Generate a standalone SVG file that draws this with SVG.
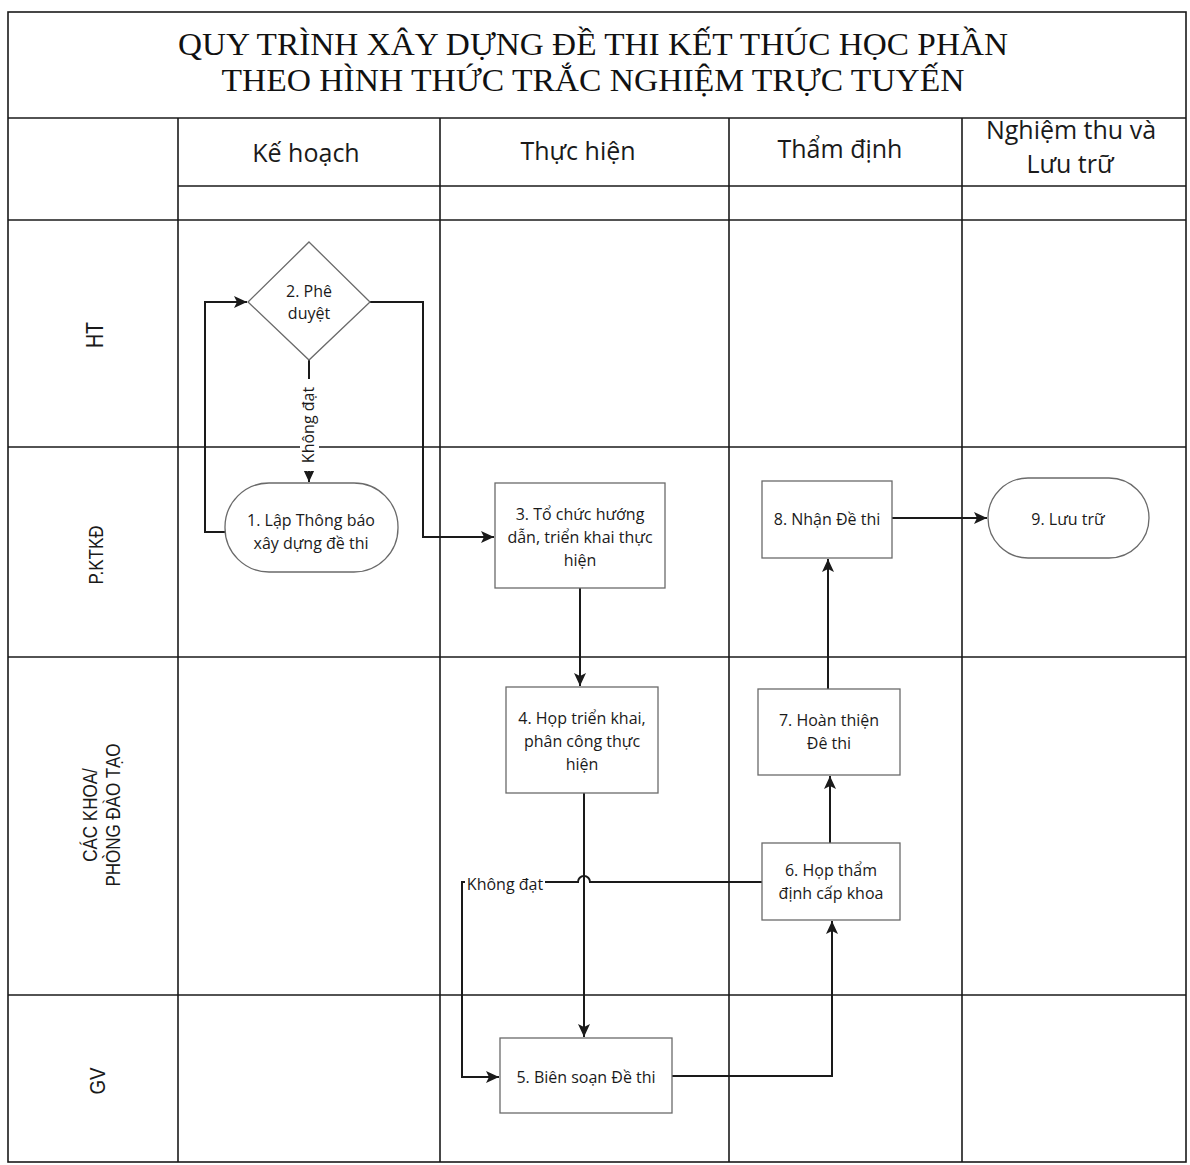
<svg xmlns="http://www.w3.org/2000/svg" width="1190" height="1165" viewBox="0 0 1190 1165">
<style>
.grid{stroke:#1a1a1a;stroke-width:1.6;fill:none}
.box{fill:#ffffff;stroke:#6a6a6a;stroke-width:1.3}
.conn{stroke:#1a1a1a;stroke-width:2;fill:none}
.t{font-family:"Open Sans","Noto Sans",sans-serif;font-size:16px;fill:#1a1a1a;text-anchor:middle}
.hd{font-family:"Open Sans","Noto Sans",sans-serif;font-size:25px;fill:#1a1a1a;text-anchor:middle}
.ttl{font-family:"Liberation Serif","Times New Roman",serif;font-size:32px;fill:#111;text-anchor:middle}
.lane{font-family:"Liberation Sans",Arial,sans-serif;fill:#1a1a1a;text-anchor:middle}
</style>
<defs>
<marker id="arr" markerUnits="userSpaceOnUse" markerWidth="14" markerHeight="12" refX="13" refY="6" orient="auto">
<path d="M0,0 L13,6 L0,12 L3,6 z" fill="#1a1a1a"/>
</marker>
</defs>
<rect x="0" y="0" width="1190" height="1165" fill="#ffffff"/>
<g id="grid">
<rect class="grid" x="8" y="12" width="1178" height="1150"/>
<line class="grid" x1="8" y1="118" x2="1186" y2="118"/>
<line class="grid" x1="178" y1="186" x2="1186" y2="186"/>
<line class="grid" x1="8" y1="220" x2="1186" y2="220"/>
<line class="grid" x1="8" y1="447" x2="1186" y2="447"/>
<line class="grid" x1="8" y1="657" x2="1186" y2="657"/>
<line class="grid" x1="8" y1="995" x2="1186" y2="995"/>
<line class="grid" x1="178" y1="118" x2="178" y2="1162"/>
<line class="grid" x1="440" y1="118" x2="440" y2="1162"/>
<line class="grid" x1="729" y1="118" x2="729" y2="1162"/>
<line class="grid" x1="962" y1="118" x2="962" y2="1162"/>
</g>
<g id="title">
<text class="ttl" x="593" y="55" textLength="830" lengthAdjust="spacingAndGlyphs">QUY TRÌNH XÂY DỰNG ĐỀ THI KẾT THÚC HỌC PHẦN</text>
<text class="ttl" x="593" y="91" textLength="743" lengthAdjust="spacingAndGlyphs">THEO HÌNH THỨC TRẮC NGHIỆM TRỰC TUYẾN</text>
</g>
<g id="headers">
<text class="hd" x="306" y="162">Kế hoạch</text>
<text class="hd" x="578" y="160">Thực hiện</text>
<text class="hd" x="840" y="158">Thẩm định</text>
<text class="hd" x="1071" y="139">Nghiệm thu và</text>
<text class="hd" x="1070" y="173">Lưu trữ</text>
</g>
<g id="lanes">
<text class="lane" font-size="24" transform="translate(103,335) rotate(-90) scale(0.82,1)">HT</text>
<text class="lane" font-size="20" transform="translate(103,555) rotate(-90) scale(0.85,1)">P.KTKĐ</text>
<text class="lane" font-size="20" transform="translate(97,815) rotate(-90) scale(0.85,1)">CÁC KHOA/</text>
<text class="lane" font-size="20" transform="translate(120,815) rotate(-90) scale(0.85,1)">PHÒNG ĐÀO TẠO</text>
<text class="lane" font-size="22" transform="translate(105,1081) rotate(-90) scale(0.85,1)">GV</text>
</g>
<g id="connectors">
<path class="conn" d="M225,532 H205 V302 H247" marker-end="url(#arr)"/>
<path class="conn" d="M370,302 H423 V537 H494" marker-end="url(#arr)"/>
<path class="conn" d="M309,360 V482" marker-end="url(#arr)"/>
<path class="conn" d="M580,588 V686" marker-end="url(#arr)"/>
<path class="conn" d="M584,793 V1037" marker-end="url(#arr)"/>
<path class="conn" d="M672,1076 H832 V921" marker-end="url(#arr)"/>
<path class="conn" d="M830,843 V776" marker-end="url(#arr)"/>
<path class="conn" d="M828,689 V559" marker-end="url(#arr)"/>
<path class="conn" d="M892,518 H987" marker-end="url(#arr)"/>
<path class="conn" d="M762,882 H590 A6,6 0 0 0 578,882 H462 V1077 H499" marker-end="url(#arr)"/>
<rect x="300" y="379" width="19" height="92" fill="#ffffff"/>
<text class="t" transform="translate(314,425) rotate(-90)">Không đạt</text>
<rect x="465" y="872" width="80" height="26" fill="#ffffff"/>
<text class="t" x="505" y="890">Không đạt</text>
</g>
<g id="node1">
<rect class="box" x="225" y="483" width="173" height="89" rx="44" ry="44"/>
<text class="t" x="311" y="526">1. Lập Thông báo</text>
<text class="t" x="311" y="549">xây dựng đề thi</text>
</g>
<g id="node2">
<polygon class="box" points="309,242 370,302 309,360 248,302"/>
<text class="t" x="309" y="297">2. Phê</text>
<text class="t" x="309" y="319">duyệt</text>
</g>
<g id="node3">
<rect class="box" x="495" y="483" width="170" height="105"/>
<text class="t" x="580" y="520">3. Tổ chức hướng</text>
<text class="t" x="580" y="543">dẫn, triển khai thực</text>
<text class="t" x="580" y="566">hiện</text>
</g>
<g id="node4">
<rect class="box" x="506" y="687" width="152" height="106"/>
<text class="t" x="582" y="724">4. Họp triển khai,</text>
<text class="t" x="582" y="747">phân công thực</text>
<text class="t" x="582" y="770">hiện</text>
</g>
<g id="node5">
<rect class="box" x="500" y="1038" width="172" height="75"/>
<text class="t" x="586" y="1083">5. Biên soạn Đề thi</text>
</g>
<g id="node6">
<rect class="box" x="762" y="843" width="138" height="77"/>
<text class="t" x="831" y="876">6. Họp thẩm</text>
<text class="t" x="831" y="899">định cấp khoa</text>
</g>
<g id="node7">
<rect class="box" x="758" y="689" width="142" height="86"/>
<text class="t" x="829" y="726">7. Hoàn thiện</text>
<text class="t" x="829" y="749">Đê thi</text>
</g>
<g id="node8">
<rect class="box" x="762" y="481" width="130" height="77"/>
<text class="t" x="827" y="525">8. Nhận Đề thi</text>
</g>
<g id="node9">
<rect class="box" x="988" y="478" width="161" height="80" rx="40" ry="40"/>
<text class="t" x="1068" y="525">9. Lưu trữ</text>
</g>
</svg>
